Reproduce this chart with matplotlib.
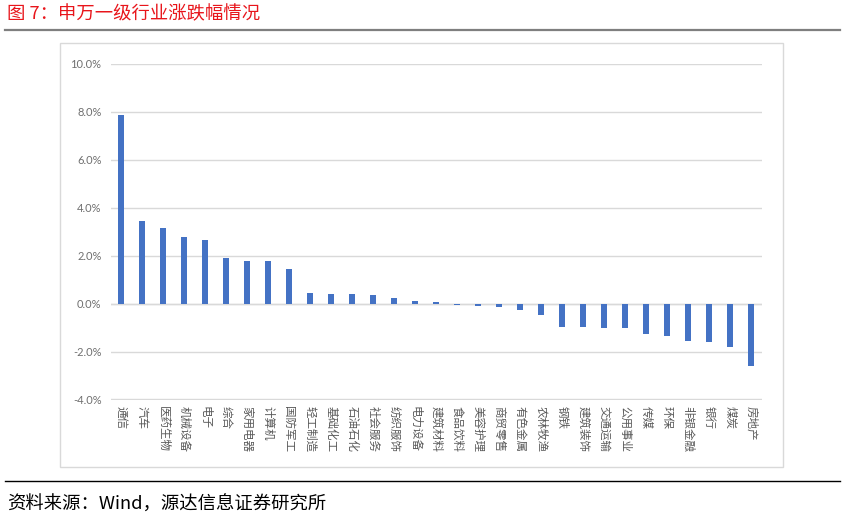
import matplotlib
matplotlib.use("Agg")
import matplotlib.pyplot as plt
from matplotlib.patches import Rectangle
from matplotlib.lines import Line2D
from matplotlib.ticker import FuncFormatter, MultipleLocator

plt.rcParams['font.family'] = ['Noto Sans CJK SC', 'DejaVu Sans']

industries = ["通信", "汽车", "医药生物", "机械设备", "电子", "综合", "家用电器", "计算机",
              "国防军工", "轻工制造", "基础化工", "石油石化", "社会服务", "纺织服饰", "电力设备",
              "建筑材料", "食品饮料", "美容护理", "商贸零售", "有色金属", "农林牧渔", "钢铁",
              "建筑装饰", "交通运输", "公用事业", "传媒", "环保", "非银金融", "银行", "煤炭", "房地产"]
changes = [7.88, 3.44, 3.15, 2.78, 2.64, 1.90, 1.80, 1.76,
           1.46, 0.46, 0.40, 0.39, 0.38, 0.22, 0.12,
           0.05, -0.06, -0.08, -0.12, -0.26, -0.49, -0.96,
           -0.99, -1.02, -1.03, -1.26, -1.34, -1.56, -1.59, -1.79, -2.62]

title = "图 7：申万一级行业涨跌幅情况"
source = "资料来源：Wind，源达信息证券研究所"

W, H = 847, 521
fig = plt.figure(figsize=(W / 100, H / 100), dpi=100)

# chart frame
fig.patches.append(Rectangle((60 / W, 1 - 467 / H), (783 - 60) / W, (467 - 42.5) / H,
                             transform=fig.transFigure, fill=False, edgecolor='#d9d9d9', lw=1.0))
# title rule and bottom rule
fig.lines.append(Line2D([5 / W, 840 / W], [1 - 30 / H, 1 - 30 / H], transform=fig.transFigure,
                        color='#7f7f7f', lw=1.6))
fig.lines.append(Line2D([5 / W, 840 / W], [1 - 480.5 / H, 1 - 480.5 / H], transform=fig.transFigure,
                        color='#000000', lw=1.0))

fig.text(7 / W, 1 - 14 / H, title, color='#e8151b', fontsize=13.2, va='center', ha='left')
fig.text(7 / W, 1 - 505 / H, source, color='#000000', fontsize=13.2, va='center', ha='left')

ax = fig.add_axes([110.5 / W, 1 - 399.5 / H, (761.5 - 110.5) / W, (399.5 - 64) / H])
x = list(range(len(industries)))
ax.bar(x, changes, width=0.33, color='#4472c4', zorder=3)
ax.set_xlim(-0.5, len(industries) - 0.5)
ax.set_ylim(-4, 10)
ax.yaxis.set_major_locator(MultipleLocator(2))
ax.yaxis.set_major_formatter(FuncFormatter(lambda v, p: f"{v:.1f}%"))
ax.grid(axis='y', color='#d9d9d9', lw=1.0, zorder=0)
ax.axhline(0, color='#d9d9d9', lw=1.0, zorder=1)
for s in ax.spines.values():
    s.set_visible(False)
ax.tick_params(axis='y', length=0, pad=6.5, labelsize=8, labelcolor='#6f6f6f')
ax.tick_params(axis='x', length=0, pad=5)
ax.set_xticks(x)
ax.set_xticklabels(industries, rotation=270, fontsize=8.3, color='#595959', va='top', ha='center')
for lbl in ax.get_yticklabels():
    lbl.set_fontfamily(['Lato', 'DejaVu Sans'])

fig.savefig("out.png", dpi=100)
